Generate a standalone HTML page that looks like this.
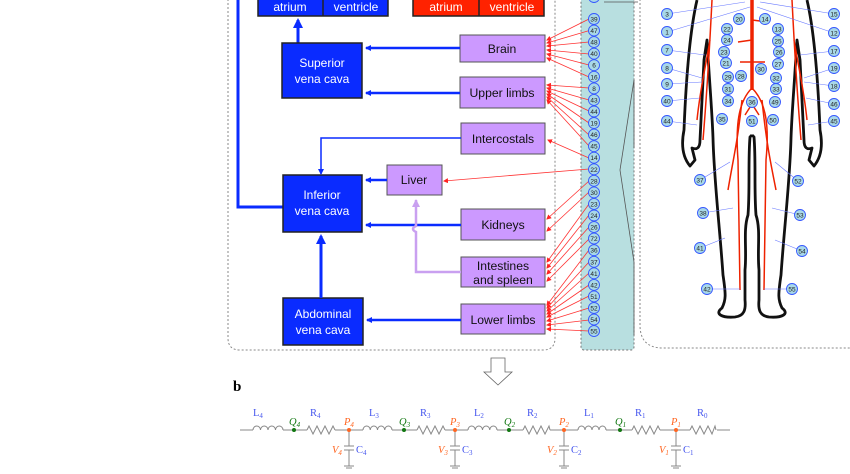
<!DOCTYPE html>
<html><head><meta charset="utf-8"><style>
html,body{margin:0;padding:0;background:#fff;}
svg{display:block;font-family:"Liberation Sans",sans-serif;}
.bx{stroke:#222;stroke-width:1.5;}
.pt{font-size:12.2px;fill:#111;text-anchor:middle;}
.wt{font-size:12px;fill:#fff;text-anchor:middle;}
.ra{stroke:#f33;stroke-width:0.8;fill:none;}
.c circle{fill:#a8d8e8;stroke:#3355ff;stroke-width:0.9;}
.c text{font-size:6.5px;fill:#222;text-anchor:middle;}
.bl{stroke:#0a2bff;stroke-width:2.5;fill:none;}
.cl{font-family:"Liberation Serif",serif;font-size:10.5px;}
</style></head><body>
<svg width="850" height="474" viewBox="0 0 850 474" xmlns="http://www.w3.org/2000/svg">
<defs>
<marker id="ab" markerWidth="6" markerHeight="6" refX="5" refY="3" orient="auto" markerUnits="userSpaceOnUse"><path d="M0,0 L6,3 L0,6z" fill="#0a2bff"/></marker>
<marker id="abb" markerWidth="10" markerHeight="10" refX="8" refY="5" orient="auto" markerUnits="userSpaceOnUse"><path d="M0,0 L10,5 L0,10z" fill="#0a2bff"/></marker>
<marker id="ar" markerWidth="5" markerHeight="5" refX="4" refY="2.5" orient="auto" markerUnits="userSpaceOnUse"><path d="M0,0 L5,2.5 L0,5z" fill="#f22"/></marker>
<marker id="ap" markerWidth="8" markerHeight="8" refX="7" refY="4" orient="auto" markerUnits="userSpaceOnUse"><path d="M0,0 L8,4 L0,8z" fill="#c9a0f0"/></marker>
</defs>
<path d="M228,-5 L228,338 Q228,350 240,350 L543,350 Q555,350 555,338 L555,-5" fill="none" stroke="#888" stroke-dasharray="2,2"/>
<rect x="258" y="-4" width="130" height="20" fill="#0a2bff" class="bx"/>
<line x1="323" y1="-4" x2="323" y2="16" stroke="#222" stroke-width="1.5"/>
<text x="290" y="11" class="wt">atrium</text><text x="356" y="11" class="wt">ventricle</text>
<rect x="413" y="-4" width="131" height="20" fill="#ff2200" class="bx"/>
<line x1="479" y1="-4" x2="479" y2="16" stroke="#222" stroke-width="1.5"/>
<text x="446" y="11" class="wt">atrium</text><text x="512" y="11" class="wt">ventricle</text>
<path d="M238,-2 L238,207 L283,207" stroke="#0a2bff" stroke-width="3" fill="none"/>
<line x1="298" y1="43" x2="298" y2="20" stroke="#0a2bff" stroke-width="3" marker-end="url(#abb)"/>
<rect x="282" y="43" width="80" height="55" fill="#0a2bff" class="bx"/>
<text x="322" y="67" class="wt">Superior</text><text x="322" y="83" class="wt">vena cava</text>
<rect x="283" y="175" width="79" height="57" fill="#0a2bff" class="bx"/>
<text x="322" y="199" class="wt">Inferior</text><text x="322" y="215" class="wt">vena cava</text>
<rect x="283" y="298" width="80" height="47" fill="#0a2bff" class="bx"/>
<text x="323" y="318" class="wt">Abdominal</text><text x="323" y="334" class="wt">vena cava</text>
<line x1="321" y1="298" x2="321" y2="236" stroke="#0a2bff" stroke-width="3" marker-end="url(#abb)"/>
<g fill="#cc99ff" stroke="#555" stroke-width="1">
<rect x="460" y="35" width="85" height="27"/>
<rect x="460" y="77" width="85" height="31"/>
<rect x="461" y="123" width="84" height="31"/>
<rect x="387" y="165" width="55" height="30"/>
<rect x="461" y="209" width="84" height="31"/>
<rect x="461" y="257" width="84" height="30"/>
<rect x="461" y="304" width="84" height="30"/>
</g>
<text x="502" y="53" class="pt">Brain</text>
<text x="502" y="97" class="pt">Upper limbs</text>
<text x="503" y="143" class="pt">Intercostals</text>
<text x="414" y="184" class="pt">Liver</text>
<text x="503" y="229" class="pt">Kidneys</text>
<text x="503" y="270" class="pt">Intestines</text>
<text x="503" y="284" class="pt">and spleen</text>
<text x="503" y="324" class="pt">Lower limbs</text>
<g class="bl">
<line x1="460" y1="48" x2="366" y2="48" marker-end="url(#ab)"/>
<line x1="460" y1="93" x2="366" y2="93" marker-end="url(#ab)"/>
<path d="M461,138 L321,138 L321,174" stroke-width="1.5" marker-end="url(#ab)"/>
<line x1="387" y1="180" x2="366" y2="180" marker-end="url(#ab)"/>
<line x1="461" y1="225" x2="366" y2="225" marker-end="url(#ab)"/>
<line x1="461" y1="320" x2="367" y2="320" marker-end="url(#ab)"/>
</g>
<path d="M461,272 L416,272 L416,232 Q410,229 416,226 L416,200" stroke="#c9a0f0" stroke-width="2.5" fill="none" marker-end="url(#ap)"/>
<rect x="581" y="-5" width="53" height="355" rx="3" fill="#b8dfe0" stroke="#777" stroke-dasharray="2,2"/>
<g class="ra">
<line x1="589" y1="19" x2="547" y2="40" marker-end="url(#ar)"/><line x1="589" y1="30.6" x2="547" y2="43" marker-end="url(#ar)"/>
<line x1="589" y1="42" x2="547" y2="46" marker-end="url(#ar)"/><line x1="589" y1="54" x2="547" y2="50" marker-end="url(#ar)"/>
<line x1="589" y1="65" x2="547" y2="54" marker-end="url(#ar)"/><line x1="589" y1="77" x2="547" y2="58" marker-end="url(#ar)"/>
<line x1="589" y1="88" x2="547" y2="85" marker-end="url(#ar)"/><line x1="589" y1="100" x2="547" y2="88" marker-end="url(#ar)"/>
<line x1="589" y1="111" x2="547" y2="91" marker-end="url(#ar)"/><line x1="589" y1="123" x2="547" y2="94" marker-end="url(#ar)"/>
<line x1="589" y1="135" x2="547" y2="97" marker-end="url(#ar)"/><line x1="589" y1="146" x2="547" y2="100" marker-end="url(#ar)"/>
<line x1="589" y1="158" x2="548" y2="140" marker-end="url(#ar)"/>
<line x1="589" y1="169" x2="444" y2="181" marker-end="url(#ar)"/>
<line x1="589" y1="181" x2="547" y2="219" marker-end="url(#ar)"/><line x1="589" y1="192" x2="547" y2="231" marker-end="url(#ar)"/>
<line x1="589" y1="204" x2="547" y2="262" marker-end="url(#ar)"/><line x1="589" y1="215" x2="547" y2="268" marker-end="url(#ar)"/>
<line x1="589" y1="227" x2="547" y2="274" marker-end="url(#ar)"/><line x1="589" y1="239" x2="547" y2="281" marker-end="url(#ar)"/>
<line x1="589" y1="250" x2="547" y2="305" marker-end="url(#ar)"/><line x1="589" y1="262" x2="547" y2="308" marker-end="url(#ar)"/>
<line x1="589" y1="273" x2="547" y2="311" marker-end="url(#ar)"/><line x1="589" y1="285" x2="547" y2="314" marker-end="url(#ar)"/>
<line x1="589" y1="296" x2="547" y2="317" marker-end="url(#ar)"/><line x1="589" y1="308" x2="547" y2="321" marker-end="url(#ar)"/>
<line x1="589" y1="320" x2="547" y2="325" marker-end="url(#ar)"/><line x1="589" y1="331" x2="547" y2="329" marker-end="url(#ar)"/>
</g>
<g class="c">
<circle cx="594" cy="-3" r="5.5"/>
<circle cx="594" cy="19" r="5.5"/><text x="594" y="21.5">39</text>
<circle cx="594" cy="30.6" r="5.5"/><text x="594" y="33">47</text>
<circle cx="594" cy="42.1" r="5.5"/><text x="594" y="44.6">48</text>
<circle cx="594" cy="53.7" r="5.5"/><text x="594" y="56.2">40</text>
<circle cx="594" cy="65.2" r="5.5"/><text x="594" y="67.7">6</text>
<circle cx="594" cy="76.8" r="5.5"/><text x="594" y="79.3">16</text>
<circle cx="594" cy="88.4" r="5.5"/><text x="594" y="90.9">8</text>
<circle cx="594" cy="99.9" r="5.5"/><text x="594" y="102.4">43</text>
<circle cx="594" cy="111.5" r="5.5"/><text x="594" y="114">44</text>
<circle cx="594" cy="123" r="5.5"/><text x="594" y="125.5">19</text>
<circle cx="594" cy="134.6" r="5.5"/><text x="594" y="137.1">46</text>
<circle cx="594" cy="146.2" r="5.5"/><text x="594" y="148.7">45</text>
<circle cx="594" cy="157.7" r="5.5"/><text x="594" y="160.2">14</text>
<circle cx="594" cy="169.3" r="5.5"/><text x="594" y="171.8">22</text>
<circle cx="594" cy="180.8" r="5.5"/><text x="594" y="183.3">28</text>
<circle cx="594" cy="192.4" r="5.5"/><text x="594" y="194.9">30</text>
<circle cx="594" cy="203.9" r="5.5"/><text x="594" y="206.4">23</text>
<circle cx="594" cy="215.5" r="5.5"/><text x="594" y="218">24</text>
<circle cx="594" cy="227.1" r="5.5"/><text x="594" y="229.6">26</text>
<circle cx="594" cy="238.6" r="5.5"/><text x="594" y="241.1">72</text>
<circle cx="594" cy="250.2" r="5.5"/><text x="594" y="252.7">36</text>
<circle cx="594" cy="261.8" r="5.5"/><text x="594" y="264.3">37</text>
<circle cx="594" cy="273.3" r="5.5"/><text x="594" y="275.8">41</text>
<circle cx="594" cy="284.9" r="5.5"/><text x="594" y="287.4">42</text>
<circle cx="594" cy="296.4" r="5.5"/><text x="594" y="298.9">51</text>
<circle cx="594" cy="308" r="5.5"/><text x="594" y="310.5">52</text>
<circle cx="594" cy="319.6" r="5.5"/><text x="594" y="322.1">54</text>
<circle cx="594" cy="331.1" r="5.5"/><text x="594" y="333.6">55</text>
</g>
<path d="M604,2 L638,2 M634,80 L620,170 L634,262" stroke="#555" stroke-width="0.8" fill="none"/>
<path d="M634,80 L634,148 M634,262 L634,335" stroke="#555" stroke-width="0.8" fill="none"/>
<path d="M640,-5 L640,325 Q640,348 663,348 L850,348" fill="none" stroke="#888" stroke-dasharray="2,2"/>
<g fill="none" stroke="#111" stroke-width="2.8" stroke-linejoin="round">
<path id="hb" d="M697,0 C690,30 686,80 684,130 C680,150 685,160 690,166 L695,160 L692,148 C697,150 700,148 700,140 L704,60 L707,40 C710,90 712,110 713,138 C714,180 720,230 723,275 C726,295 726,300 722,308 C714,314 722,318 735,317 C744,316 746,310 745,300 L745,270 C747,250 743,230 748,215 C750,190 748,160 750,137 L752,135"/>
<use href="#hb" transform="translate(1504,0) scale(-1,1)"/>
</g>
<g stroke="#ee2200" fill="none" stroke-width="1.5">
<path d="M752,0 L752,90" stroke-width="3.5"/>
<path d="M752,88 C740,100 735,120 738,160 L740,290 M752,88 C764,100 770,120 766,160 L764,290"/>
<path d="M742,100 C738,140 733,160 728,190 M762,100 C766,140 770,160 776,190"/>
<path d="M712,0 C710,40 708,80 703,140 M710,40 C705,70 700,90 697,120 M792,0 C794,40 796,80 801,140 M794,40 C799,70 804,90 807,120"/>
<path d="M752,20 L768,22 M752,40 L738,42 M752,62 L740,62 M752,62 L765,62 M752,104 L745,115 M752,104 L759,115"/>
</g>
<g stroke="#6677ff" stroke-width="0.6">
<line x1="667" y1="14" x2="745" y2="2"/><line x1="667" y1="32" x2="750" y2="7"/><line x1="667" y1="50" x2="705" y2="55"/><line x1="667" y1="68" x2="702" y2="78"/><line x1="667" y1="84" x2="702" y2="82"/><line x1="667" y1="101" x2="700" y2="98"/><line x1="667" y1="121" x2="697" y2="125"/>
<line x1="834" y1="14" x2="760" y2="2"/><line x1="834" y1="33" x2="757" y2="7"/><line x1="834" y1="51" x2="800" y2="55"/><line x1="834" y1="68" x2="804" y2="78"/><line x1="834" y1="86" x2="804" y2="82"/><line x1="834" y1="104" x2="806" y2="98"/><line x1="834" y1="121" x2="808" y2="125"/>
<line x1="700" y1="180" x2="730" y2="162"/><line x1="703" y1="213" x2="733" y2="208"/><line x1="700" y1="248" x2="725" y2="238"/><line x1="707" y1="289" x2="740" y2="289"/>
<line x1="798" y1="181" x2="775" y2="162"/><line x1="800" y1="215" x2="772" y2="208"/><line x1="802" y1="251" x2="775" y2="240"/><line x1="792" y1="289" x2="764" y2="289"/>
</g>
<g class="c">
<circle cx="667" cy="14" r="5.5"/><text x="667" y="16.5">3</text>
<circle cx="667" cy="32" r="5.5"/><text x="667" y="34.5">1</text>
<circle cx="667" cy="50" r="5.5"/><text x="667" y="52.5">7</text>
<circle cx="667" cy="68" r="5.5"/><text x="667" y="70.5">8</text>
<circle cx="667" cy="84" r="5.5"/><text x="667" y="86.5">9</text>
<circle cx="667" cy="101" r="5.5"/><text x="667" y="103.5">40</text>
<circle cx="667" cy="121" r="5.5"/><text x="667" y="123.5">44</text>
<circle cx="834" cy="14" r="5.5"/><text x="834" y="16.5">15</text>
<circle cx="834" cy="33" r="5.5"/><text x="834" y="35.5">12</text>
<circle cx="834" cy="51" r="5.5"/><text x="834" y="53.5">17</text>
<circle cx="834" cy="68" r="5.5"/><text x="834" y="70.5">19</text>
<circle cx="834" cy="86" r="5.5"/><text x="834" y="88.5">18</text>
<circle cx="834" cy="104" r="5.5"/><text x="834" y="106.5">46</text>
<circle cx="834" cy="121" r="5.5"/><text x="834" y="123.5">45</text>
<circle cx="739" cy="19" r="5.5"/><text x="739" y="21.5">20</text>
<circle cx="765" cy="19" r="5.5"/><text x="765" y="21.5">14</text>
<circle cx="727" cy="29" r="5.5"/><text x="727" y="31.5">22</text>
<circle cx="778" cy="29" r="5.5"/><text x="778" y="31.5">13</text>
<circle cx="727" cy="40" r="5.5"/><text x="727" y="42.5">24</text>
<circle cx="778" cy="41" r="5.5"/><text x="778" y="43.5">25</text>
<circle cx="724" cy="52" r="5.5"/><text x="724" y="54.5">23</text>
<circle cx="779" cy="52" r="5.5"/><text x="779" y="54.5">26</text>
<circle cx="726" cy="63" r="5.5"/><text x="726" y="65.5">21</text>
<circle cx="778" cy="64" r="5.5"/><text x="778" y="66.5">27</text>
<circle cx="728" cy="77" r="5.5"/><text x="728" y="79.5">29</text>
<circle cx="741" cy="76" r="5.5"/><text x="741" y="78.5">28</text>
<circle cx="761" cy="69" r="5.5"/><text x="761" y="71.5">30</text>
<circle cx="776" cy="78" r="5.5"/><text x="776" y="80.5">32</text>
<circle cx="728" cy="89" r="5.5"/><text x="728" y="91.5">31</text>
<circle cx="776" cy="89" r="5.5"/><text x="776" y="91.5">33</text>
<circle cx="728" cy="101" r="5.5"/><text x="728" y="103.5">34</text>
<circle cx="752" cy="102" r="5.5"/><text x="752" y="104.5">36</text>
<circle cx="775" cy="102" r="5.5"/><text x="775" y="104.5">49</text>
<circle cx="722" cy="119" r="5.5"/><text x="722" y="121.5">35</text>
<circle cx="752" cy="121" r="5.5"/><text x="752" y="123.5">51</text>
<circle cx="773" cy="120" r="5.5"/><text x="773" y="122.5">50</text>
<circle cx="700" cy="180" r="5.5"/><text x="700" y="182.5">37</text>
<circle cx="703" cy="213" r="5.5"/><text x="703" y="215.5">38</text>
<circle cx="700" cy="248" r="5.5"/><text x="700" y="250.5">41</text>
<circle cx="707" cy="289" r="5.5"/><text x="707" y="291.5">42</text>
<circle cx="798" cy="181" r="5.5"/><text x="798" y="183.5">52</text>
<circle cx="800" cy="215" r="5.5"/><text x="800" y="217.5">53</text>
<circle cx="802" cy="251" r="5.5"/><text x="802" y="253.5">54</text>
<circle cx="792" cy="289" r="5.5"/><text x="792" y="291.5">55</text>
</g>
<path d="M491,358 L505,358 L505,372 L512,372 L498,385 L484,372 L491,372 Z" fill="#fff" stroke="#666" stroke-width="0.8"/>
<text x="233" y="391" font-family="Liberation Serif,serif" font-weight="bold" font-size="15">b</text>
<g stroke="#888" stroke-width="1" fill="none">
<line x1="240" y1="430" x2="253" y2="430"/>
<path d="M253,430 a3.75,4 0 0 1 7.5,0 a3.75,4 0 0 1 7.5,0 a3.75,4 0 0 1 7.5,0 a3.75,4 0 0 1 7.5,0"/>
<line x1="283" y1="430" x2="307" y2="430"/>
<path d="M307,430 l2,-4 l4,8 l4,-8 l4,8 l4,-8 l4,8 l4,-8 l2,4"/>
<line x1="335" y1="430" x2="363" y2="430"/>
<path d="M363,430 a3.6,4 0 0 1 7.25,0 a3.6,4 0 0 1 7.25,0 a3.6,4 0 0 1 7.25,0 a3.6,4 0 0 1 7.25,0"/>
<line x1="392" y1="430" x2="417" y2="430"/>
<path d="M417,430 l2,-4 l4,8 l4,-8 l4,8 l4,-8 l4,8 l4,-8 l2,4"/>
<line x1="445" y1="430" x2="468" y2="430"/>
<path d="M468,430 a3.6,4 0 0 1 7.25,0 a3.6,4 0 0 1 7.25,0 a3.6,4 0 0 1 7.25,0 a3.6,4 0 0 1 7.25,0"/>
<line x1="497" y1="430" x2="523" y2="430"/>
<path d="M523,430 l2,-4 l4,8 l4,-8 l4,8 l4,-8 l4,8 l4,-8 l1,4"/>
<line x1="550" y1="430" x2="578" y2="430"/>
<path d="M578,430 a3.5,4 0 0 1 7,0 a3.5,4 0 0 1 7,0 a3.5,4 0 0 1 7,0 a3.5,4 0 0 1 7,0"/>
<line x1="606" y1="430" x2="632" y2="430"/>
<path d="M632,430 l2,-4 l4,8 l4,-8 l4,8 l4,-8 l4,8 l4,-8 l2,4"/>
<line x1="660" y1="430" x2="690" y2="430"/>
<path d="M690,430 l2,-4 l4,8 l4,-8 l4,8 l4,-8 l4,8 l3,-8 l1,4"/>
<line x1="717" y1="430" x2="730" y2="430"/>
<path d="M349,430 V446 M344,446 H354 M344,450 H354 M349,450 V466 M344,466 H354 M346,468 H352"/>
<path d="M455,430 V446 M450,446 H460 M450,450 H460 M455,450 V466 M450,466 H460 M452,468 H458"/>
<path d="M564,430 V446 M559,446 H569 M559,450 H569 M564,450 V466 M559,466 H569 M561,468 H567"/>
<path d="M676,430 V446 M671,446 H681 M671,450 H681 M676,450 V466 M671,466 H681 M673,468 H679"/>
</g>
<g fill="#117711"><circle cx="294" cy="430" r="2"/><circle cx="404" cy="430" r="2"/><circle cx="509" cy="430" r="2"/><circle cx="620" cy="430" r="2"/></g>
<g fill="#ff6622"><circle cx="349" cy="430" r="2"/><circle cx="455" cy="430" r="2"/><circle cx="564" cy="430" r="2"/><circle cx="676" cy="430" r="2"/></g>
<g class="cl" fill="#4455ee">
<text x="253" y="416">L<tspan font-size="7" dy="2">4</tspan></text>
<text x="310" y="416">R<tspan font-size="7" dy="2">4</tspan></text>
<text x="369" y="416">L<tspan font-size="7" dy="2">3</tspan></text>
<text x="420" y="416">R<tspan font-size="7" dy="2">3</tspan></text>
<text x="474" y="416">L<tspan font-size="7" dy="2">2</tspan></text>
<text x="527" y="416">R<tspan font-size="7" dy="2">2</tspan></text>
<text x="584" y="416">L<tspan font-size="7" dy="2">1</tspan></text>
<text x="635" y="416">R<tspan font-size="7" dy="2">1</tspan></text>
<text x="697" y="416">R<tspan font-size="7" dy="2">0</tspan></text>
<text x="356" y="453">C<tspan font-size="7" dy="2">4</tspan></text>
<text x="462" y="453">C<tspan font-size="7" dy="2">3</tspan></text>
<text x="571" y="453">C<tspan font-size="7" dy="2">2</tspan></text>
<text x="683" y="453">C<tspan font-size="7" dy="2">1</tspan></text>
</g>
<g class="cl" fill="#117711" font-style="italic">
<text x="289" y="425">Q<tspan font-size="7" dy="2">4</tspan></text>
<text x="399" y="425">Q<tspan font-size="7" dy="2">3</tspan></text>
<text x="504" y="425">Q<tspan font-size="7" dy="2">2</tspan></text>
<text x="615" y="425">Q<tspan font-size="7" dy="2">1</tspan></text>
</g>
<g class="cl" fill="#ff6622" font-style="italic">
<text x="344" y="425">P<tspan font-size="7" dy="2">4</tspan></text>
<text x="450" y="425">P<tspan font-size="7" dy="2">3</tspan></text>
<text x="559" y="425">P<tspan font-size="7" dy="2">2</tspan></text>
<text x="671" y="425">P<tspan font-size="7" dy="2">1</tspan></text>
<text x="332" y="453">V<tspan font-size="7" dy="2">4</tspan></text>
<text x="438" y="453">V<tspan font-size="7" dy="2">3</tspan></text>
<text x="547" y="453">V<tspan font-size="7" dy="2">2</tspan></text>
<text x="659" y="453">V<tspan font-size="7" dy="2">1</tspan></text>
</g>
</svg>
</body></html>
